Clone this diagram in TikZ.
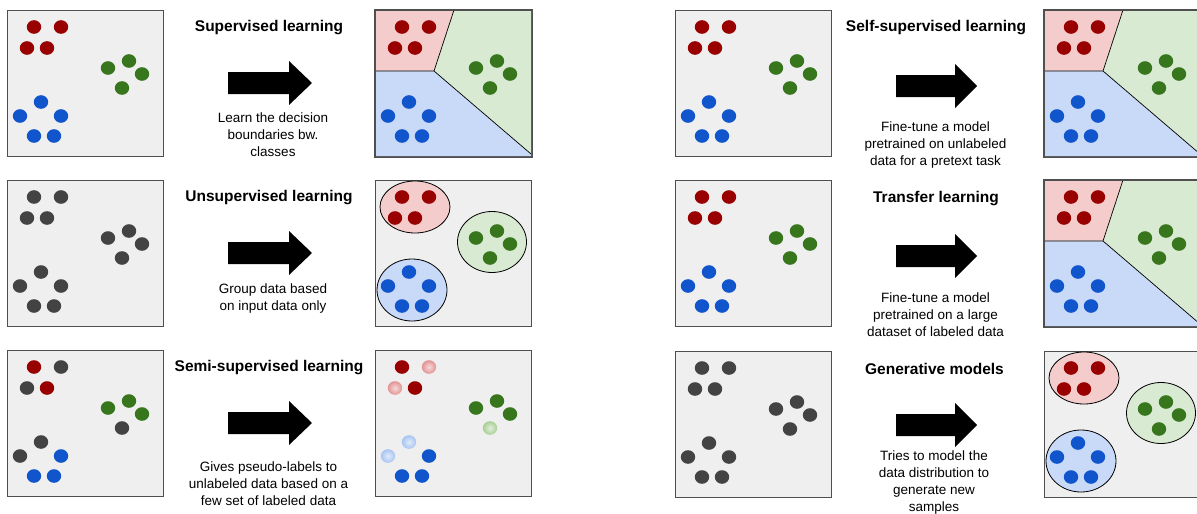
\documentclass[tikz,border=0pt]{standalone}
\usepackage{fontspec}
\setmainfont{Liberation Sans}
\definecolor{panelfill}{HTML}{EFEFEF}
\definecolor{panelline}{HTML}{4F4F4F}
\definecolor{dred}{HTML}{990000}
\definecolor{dgreen}{HTML}{38761D}
\definecolor{dblue}{HTML}{1155CC}
\definecolor{dgray}{HTML}{434343}
\definecolor{lred}{HTML}{F4CCCC}
\definecolor{lgreen}{HTML}{D9EAD3}
\definecolor{lblue}{HTML}{C9DAF8}
\definecolor{fred}{HTML}{E39494}
\definecolor{fblue}{HTML}{A9C5F2}
\definecolor{fgreen}{HTML}{A9CF96}
\tikzset{
  panel/.style={fill=panelfill, draw=panelline, line width=1.1pt, minimum width=156pt, minimum height=146pt, inner sep=0pt, anchor=north west},
  panelborder/.style={draw=panelline, line width=1.1pt},
  region/.style={draw=black, line width=0.7pt},
  cluster/.style={draw=black, line width=0.8pt},
  title/.style={font=\fontsize{15.5}{18}\selectfont\bfseries, inner sep=0pt},
  desc/.style={font=\fontsize{13.5}{17}\selectfont, align=center, inner sep=0pt},
  blockarrow/.style={fill=black},
}
\newcommand{\mydot}[3]{\fill[#1] (#2,#3) ellipse [x radius=7.2pt, y radius=6.8pt];}
\newcommand{\myfaded}[3]{\shade[inner color=#1!35, outer color=#1] (#2,#3) ellipse [x radius=7.2pt, y radius=6.8pt];}
\newcommand{\stddots}[3]{%
  \foreach \px/\py in {27/17,54/17,20/38,40/38} {\mydot{#1}{\px}{\py}}
  \foreach \px/\py in {101/58,122/51,135/64,115/78} {\mydot{#2}{\px}{\py}}
  \foreach \px/\py in {34/92,13/106,54/106,27/126,47/126} {\mydot{#3}{\px}{\py}}
}
\newcommand{\supregions}{%
  \fill[lred] (0,0) -- (79,0) -- (59,61) -- (0,61) -- cycle;
  \fill[lgreen] (79,0) -- (156,0) -- (156,144) -- (59,61) -- cycle;
  \fill[lblue] (0,61) -- (59,61) -- (156,144) -- (156,146) -- (0,146) -- cycle;
  \draw[region] (0,61) -- (59,61) -- (79,0);
  \draw[region] (59,61) -- (156,144);
}
\newcommand{\clusters}{%
  \draw[cluster, fill=lred] (40,27) ellipse [x radius=35pt, y radius=26pt];
  \draw[cluster, fill=lgreen] (117,62) ellipse [x radius=34.5pt, y radius=30.5pt];
  \draw[cluster, fill=lblue] (37,110) ellipse [x radius=35pt, y radius=31pt];
}
\newcommand{\bigarrow}[4]{%
  \begin{scope}[shift={(#1,#2)}]
    \fill[blockarrow] (0,-11) -- (#3,-11) -- (#3,-22) -- (#4,0) -- (#3,22) -- (#3,11) -- (0,11) -- cycle;
  \end{scope}
}
\begin{document}
\begin{tikzpicture}[x=1pt, y=-1pt]
\path[use as bounding box] (0,0) rectangle (1197,514);
\clip (0,0) rectangle (1197,514);

% ---------- left column ----------
% row 1: supervised
\node[panel] (in1) at (7,10) {};
\begin{scope}[shift={(in1.north west)}] \stddots{dred}{dgreen}{dblue} \end{scope}
\node[panel] (out1) at (375,10) {};
\begin{scope}[shift={(out1.north west)}] \supregions \stddots{dred}{dgreen}{dblue} \end{scope}
\draw[panelborder] (out1.north west) rectangle (out1.south east);
\bigarrow{228}{83}{61}{84}
\node[title] (t1) at (269,28) {Supervised learning};
\node[desc] (d1) at (273,135) {Learn the decision\\boundaries bw.\\classes};

% row 2: unsupervised
\node[panel] (in2) at (7,180) {};
\begin{scope}[shift={(in2.north west)}] \stddots{dgray}{dgray}{dgray} \end{scope}
\node[panel] (out2) at (375,180) {};
\begin{scope}[shift={(out2.north west)}] \clusters \stddots{dred}{dgreen}{dblue} \end{scope}
\bigarrow{228}{253}{61}{84}
\node[title] (t2) at (269,198) {Unsupervised learning};
\node[desc] (d2) at (273,298.5) {Group data based\\on input data only};

% row 3: semi-supervised
\node[panel] (in3) at (7,350) {};
\begin{scope}[shift={(in3.north west)}]
  \mydot{dred}{27}{17} \mydot{dgray}{54}{17} \mydot{dgray}{20}{38} \mydot{dred}{40}{38}
  \mydot{dgreen}{101}{58} \mydot{dgreen}{122}{51} \mydot{dgreen}{135}{64} \mydot{dgray}{115}{78}
  \mydot{dgray}{34}{92} \mydot{dgray}{13}{106} \mydot{dblue}{54}{106} \mydot{dblue}{27}{126} \mydot{dblue}{47}{126}
\end{scope}
\node[panel] (out3) at (375,350) {};
\begin{scope}[shift={(out3.north west)}]
  \mydot{dred}{27}{17} \myfaded{fred}{54}{17} \myfaded{fred}{20}{38} \mydot{dred}{40}{38}
  \mydot{dgreen}{101}{58} \mydot{dgreen}{122}{51} \mydot{dgreen}{135}{64} \myfaded{fgreen}{115}{78}
  \myfaded{fblue}{34}{92} \myfaded{fblue}{13}{106} \mydot{dblue}{54}{106} \mydot{dblue}{27}{126} \mydot{dblue}{47}{126}
\end{scope}
\bigarrow{228}{423}{61}{84}
\node[title] (t3) at (269,368) {Semi-supervised learning};
\node[desc] (d3) at (268.5,483.5) {Gives pseudo-labels to\\unlabeled data based on a\\few set of labeled data};

% ---------- right column ----------
% row 1: self-supervised
\node[panel] (in4) at (675,10) {};
\begin{scope}[shift={(in4.north west)}] \stddots{dred}{dgreen}{dblue} \end{scope}
\node[panel] (out4) at (1044,10) {};
\begin{scope}[shift={(out4.north west)}] \supregions \stddots{dred}{dgreen}{dblue} \end{scope}
\draw[panelborder] (out4.north west) rectangle (out4.south east);
\bigarrow{896}{86}{59}{81}
\node[title] (t4) at (936,28) {Self-supervised learning};
\node[desc] (d4) at (935.5,145) {Fine-tune a model\\pretrained on unlabeled\\data for a pretext task};

% row 2: transfer
\node[panel] (in5) at (675,180) {};
\begin{scope}[shift={(in5.north west)}] \stddots{dred}{dgreen}{dblue} \end{scope}
\node[panel] (out5) at (1044,180) {};
\begin{scope}[shift={(out5.north west)}] \supregions \stddots{dred}{dgreen}{dblue} \end{scope}
\draw[panelborder] (out5.north west) rectangle (out5.south east);
\bigarrow{896}{256}{59}{81}
\node[title] (t5) at (936,199) {Transfer learning};
\node[desc] (d5) at (935.5,314.5) {Fine-tune a model\\pretrained on a large\\dataset of labeled data};

% row 3: generative
\node[panel] (in6) at (675,351) {};
\begin{scope}[shift={(in6.north west)}] \stddots{dgray}{dgray}{dgray} \end{scope}
\node[panel] (out6) at (1044,351) {};
\begin{scope}[shift={(out6.north west)}] \clusters \stddots{dred}{dgreen}{dblue} \end{scope}
\bigarrow{896}{425}{59}{81}
\node[title] (t6) at (934.5,369) {Generative models};
\node[desc] (d6) at (934,483) {Tries to model the\\data distribution to\\generate new\\samples};
\end{tikzpicture}
\end{document}
